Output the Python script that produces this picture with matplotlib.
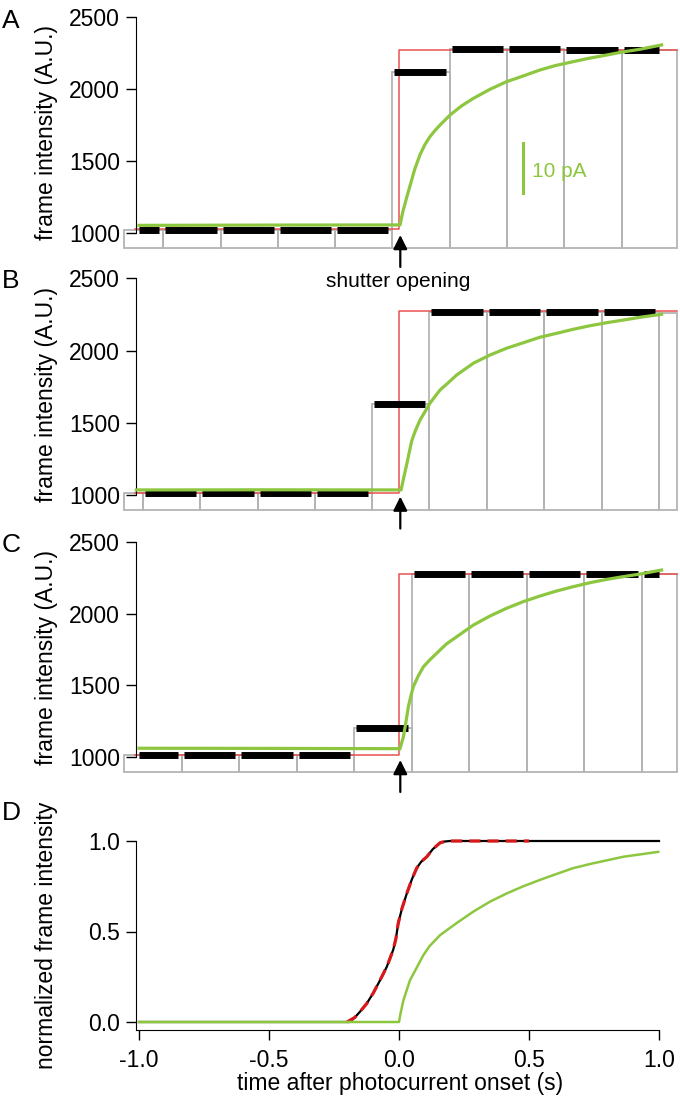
import matplotlib
matplotlib.use('Agg')
import matplotlib.pyplot as plt

plt.rcParams['font.family'] = ['Liberation Sans', 'DejaVu Sans']

# frame edges (s) and frame intensities (A.U.) for panels A-C
edges_a = [-1.058, -0.908, -0.685, -0.465, -0.246, -0.027, 0.196, 0.415, 0.635, 0.858, 1.069]
frames_a = [1022, 1022, 1022, 1022, 1022, 2118, 2275, 2275, 2274, 2272]
edges_b = [-1.058, -0.985, -0.765, -0.542, -0.323, -0.104, 0.115, 0.338, 0.558, 0.781, 1.0, 1.069]
frames_b = [1012, 1012, 1012, 1012, 1012, 1628, 2266, 2266, 2266, 2265, 2258]
edges_c = [-1.058, -0.835, -0.615, -0.392, -0.173, 0.05, 0.269, 0.492, 0.712, 0.935, 1.069]
frames_c = [1016, 1016, 1016, 1016, 1202, 2278, 2277, 2276, 2275, 2274]

# shutter model (red step): low and high level, step at t = 0
shutter_t = [-1.015, 0.0, 0.0, 1.069]
shutter_a = [1028, 1028, 2268, 2268]
shutter_b = [1015, 1015, 2274, 2274]
shutter_c = [1018, 1018, 2275, 2275]

# photocurrent traces (green), rescaled to frame intensity
pc_t_a = [-1.0, -0.5, 0.0, 0.004, 0.015, 0.03, 0.049, 0.06, 0.081, 0.1, 0.119, 0.14, 0.158,
          0.196, 0.24, 0.286, 0.35, 0.414, 0.48, 0.542, 0.6, 0.67, 0.73, 0.799, 0.86, 0.927, 1.01]
pc_a = [1053, 1055, 1056, 1056, 1150, 1250, 1370, 1440, 1545, 1615, 1669, 1715, 1750,
        1819, 1882, 1935, 1998, 2051, 2092, 2132, 2162, 2190, 2213, 2236, 2257, 2276, 2306]
pc_t_b = [-1.01, -0.5, 0.0, 0.008, 0.019, 0.03, 0.04, 0.049, 0.064, 0.081, 0.1, 0.119, 0.138,
          0.158, 0.19, 0.222, 0.286, 0.35, 0.414, 0.478, 0.542, 0.606, 0.67, 0.735, 0.8, 0.863,
          0.927, 1.01]
pc_b = [1035, 1036, 1035, 1035, 1127, 1215, 1300, 1375, 1450, 1519, 1577, 1635, 1681,
        1727, 1778, 1831, 1912, 1969, 2016, 2054, 2092, 2119, 2147, 2172, 2193, 2211,
        2230, 2251]
pc_t_c = [-1.0, -0.5, 0.0, 0.003, 0.017, 0.026, 0.036, 0.045, 0.055, 0.074, 0.094, 0.118, 0.145,
          0.182, 0.222, 0.286, 0.35, 0.414, 0.478, 0.542, 0.606, 0.67, 0.735, 0.8, 0.863, 0.927,
          1.01]
pc_c = [1063, 1062, 1060, 1056, 1143, 1237, 1352, 1422, 1491, 1566, 1630, 1677, 1724,
        1788, 1839, 1920, 1983, 2037, 2083, 2122, 2157, 2187, 2215, 2238, 2257, 2275,
        2303]

# panel D: normalized frame intensity (black), fit (red dashed), photocurrent (green)
norm_t = [-1.0, -0.5, -0.227, -0.19, -0.17, -0.15, -0.125, -0.099, -0.075, -0.047, -0.035,
          -0.022, -0.012, -0.003, 0.012, 0.03, 0.05, 0.068, 0.085, 0.107, 0.13, 0.158, 0.175,
          0.196, 0.5, 1.0]
norm_frame = [0.0, 0.0, 0.0, 0.0, 0.025, 0.057, 0.1, 0.16, 0.225, 0.305, 0.35,
              0.40, 0.46, 0.545, 0.63, 0.71, 0.79, 0.85, 0.885, 0.913, 0.955, 0.99, 0.997,
              1.0, 1.0, 1.0]
fit_t = [-0.2, -0.17, -0.15, -0.125, -0.099, -0.075, -0.047, -0.035, -0.022, -0.012, -0.003,
         0.012, 0.03, 0.05, 0.068, 0.085, 0.107, 0.13, 0.158, 0.175, 0.196, 0.5]
fit_vals = [0.0, 0.025, 0.057, 0.1, 0.16, 0.225, 0.305, 0.35, 0.40, 0.46, 0.545,
            0.63, 0.71, 0.79, 0.85, 0.885, 0.913, 0.955, 0.99, 0.997, 1.0, 1.0]
norm_pc_t = [-1.0, 0.0, 0.006, 0.017, 0.042, 0.094, 0.118, 0.158, 0.22, 0.286, 0.35,
             0.414, 0.478, 0.542, 0.606, 0.67, 0.735, 0.799, 0.863, 0.997]
norm_pc = [0.0, 0.0, 0.048, 0.12, 0.23, 0.37, 0.42, 0.48, 0.545, 0.61, 0.665,
           0.71, 0.75, 0.785, 0.818, 0.85, 0.873, 0.893, 0.913, 0.94]

int_ticks = [1000, 1500, 2000, 2500]
norm_ticks = [0.0, 0.5, 1.0]
norm_ticklabels = ['0.0', '0.5', '1.0']
time_ticks = [-1.0, -0.5, 0.0, 0.5, 1.0]
time_ticklabels = ['-1.0', '-0.5', '0.0', '0.5', '1.0']

GREEN = '#8dc63f'
GRAY = '#b4b4b4'
RED = '#e8514f'
FS = 16.5

# layout in pixels of the 680 x 1097 figure
PX_W, PX_H = 680, 1097
T0_PX, T_SCALE = 399.0, 260.0
XLIM = (-1.065, 1.075)
SPINE_T = -1.012
FRAME_BASE = 896


def add_panel(fig, ylim, ref):
    """Add axes so that two reference values land on the given pixel rows."""
    (v1, p1), (v2, p2) = ref
    per = (p2 - p1) / (v2 - v1)
    top = p1 + (ylim[1] - v1) * per
    bottom = p1 + (ylim[0] - v1) * per
    left = T0_PX + T_SCALE * XLIM[0]
    right = T0_PX + T_SCALE * XLIM[1]
    ax = fig.add_axes([left / PX_W, 1 - bottom / PX_H,
                       (right - left) / PX_W, (bottom - top) / PX_H])
    ax.set_xlim(*XLIM)
    ax.set_ylim(*ylim)
    return ax


def style_axis(ax):
    for side in ['top', 'right', 'bottom']:
        ax.spines[side].set_visible(False)
    ax.spines['left'].set_position(('data', SPINE_T))
    ax.spines['left'].set_bounds(1000, 2500)
    ax.set_xticks([])
    ax.set_yticks(int_ticks)
    ax.tick_params(axis='y', direction='out', length=7.5, width=1, pad=4, labelsize=FS)
    ax.set_ylabel('frame intensity (A.U.)', fontsize=FS)
    ax.yaxis.set_label_coords(-0.115, 0.5)


def draw_frames(ax, edges, frames, shutter, pc_t, pc, arrow_tip):
    lefts = edges[:-1]
    widths = [b - a for a, b in zip(edges[:-1], edges[1:])]
    heights = [f - FRAME_BASE for f in frames]
    ax.bar(lefts, heights, width=widths, bottom=FRAME_BASE, align='edge',
           fill=False, edgecolor=GRAY, linewidth=1.3, zorder=1, clip_on=False)
    ax.plot(shutter_t, shutter, color=RED, lw=1.1, zorder=2)
    # exposure part of each frame as a thick black bar
    for a, b, f in zip(edges[:-1], edges[1:], frames):
        x0 = max(a + 0.008, -1.0)
        x1 = min(b - 0.016, 1.0)
        if x1 > x0:
            ax.plot([x0, x1], [f, f], color='black', lw=5, solid_capstyle='butt', zorder=3)
    ax.plot(pc_t, pc, color=GREEN, lw=2.3, zorder=4)
    ax.annotate('', xy=(0.005, arrow_tip), xytext=(0, -23), textcoords='offset points',
                arrowprops=dict(arrowstyle='-|>', color='black', lw=1.6,
                                mutation_scale=21, shrinkA=0, shrinkB=0),
                annotation_clip=False)


fig = plt.figure(figsize=(PX_W / 100, PX_H / 100), dpi=100)

ax_a = add_panel(fig, (870, 2520), ((2500, 17), (1000, 233)))
ax_b = add_panel(fig, (870, 2520), ((2500, 278.3), (1000, 495)))
ax_c = add_panel(fig, (870, 2520), ((2500, 541.7), (1000, 757.3)))
ax_d = add_panel(fig, (-0.06, 1.02), ((1.0, 841), (0.0, 1022)))

draw_frames(ax_a, edges_a, frames_a, shutter_a, pc_t_a, pc_a, 986)
draw_frames(ax_b, edges_b, frames_b, shutter_b, pc_t_b, pc_b, 989)
draw_frames(ax_c, edges_c, frames_c, shutter_c, pc_t_c, pc_c, 981)
for ax in (ax_a, ax_b, ax_c):
    style_axis(ax)

# 10 pA scale bar
ax_a.plot([0.476, 0.476], [1280, 1623], color=GREEN, lw=2.2)
ax_a.text(0.51, 1391, '10 pA', color=GREEN, fontsize=15, va='baseline', ha='left')

# panel D
ax_d.plot(norm_t, norm_frame, color='black', lw=1.6, zorder=2)
ax_d.plot(fit_t, fit_vals, color='#d7191c', lw=2.3, dashes=(3.5, 2.2), zorder=3)
ax_d.plot(norm_pc_t, norm_pc, color=GREEN, lw=1.8, zorder=4)
for side in ['top', 'right']:
    ax_d.spines[side].set_visible(False)
ax_d.spines['left'].set_position(('data', SPINE_T))
ax_d.spines['left'].set_bounds(-0.045, 1.0)
ax_d.spines['bottom'].set_position(('data', -0.045))
ax_d.spines['bottom'].set_bounds(SPINE_T, 1.0)
ax_d.set_yticks(norm_ticks)
ax_d.set_yticklabels(norm_ticklabels)
ax_d.set_xticks(time_ticks)
ax_d.set_xticklabels(time_ticklabels)
ax_d.tick_params(axis='y', direction='out', length=7.5, width=1, pad=4, labelsize=FS)
ax_d.tick_params(axis='x', direction='out', length=7.5, width=1, pad=6, labelsize=FS)
ax_d.set_ylabel('normalized frame intensity', fontsize=FS)
ax_d.yaxis.set_label_coords(-0.115, 0.5)
ax_d.set_xlabel('time after photocurrent onset (s)', fontsize=FS, labelpad=0)

# panel letters and shutter label
for letter, base in zip('ABCD', [28, 288, 552, 820]):
    fig.text(2 / PX_W, 1 - base / PX_H, letter, fontsize=19, va='baseline', ha='left')
fig.text(398 / PX_W, 1 - 287 / PX_H, 'shutter opening', fontsize=15,
         va='baseline', ha='center')

fig.savefig('out.png', dpi=100)
